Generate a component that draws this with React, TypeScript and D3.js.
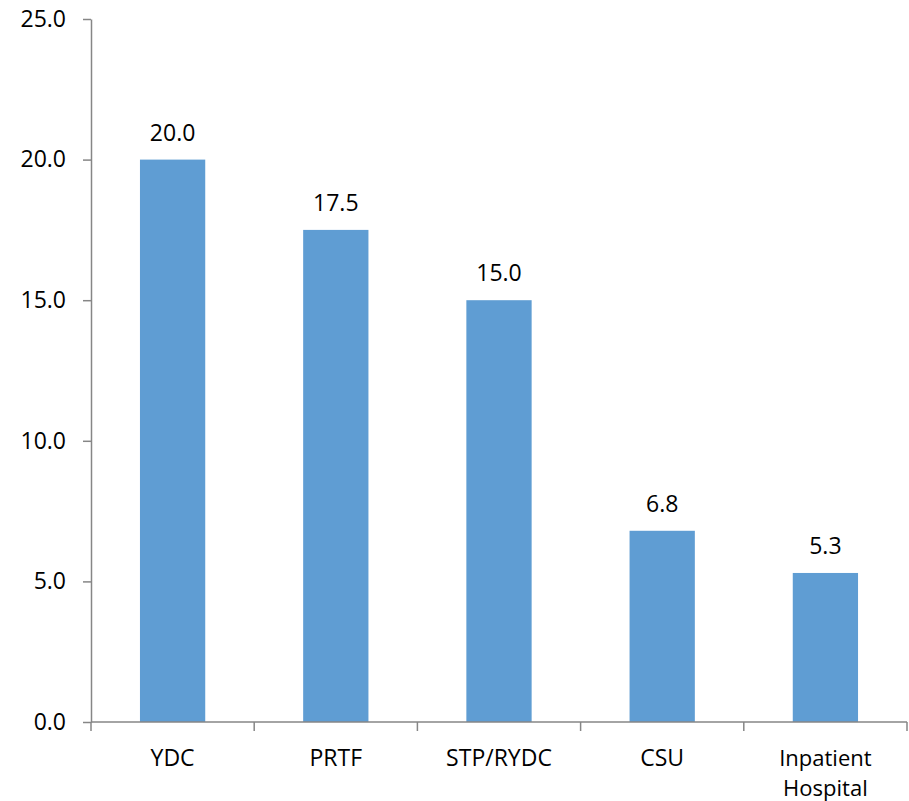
import React, { useEffect, useRef } from "react";
import * as d3 from "d3";

const categories = ["YDC", "PRTF", "STP/RYDC", "CSU", "Inpatient Hospital"];
const values = [20.0, 17.5, 15.0, 6.8, 5.3];
const yTicks = [0, 5, 10, 15, 20, 25];

const width = 909;
const height = 801;
const margin = { top: 19, right: 2, bottom: 79, left: 91 };
const font = "'Open Sans', sans-serif";
const fontSize = "23px";

function BarChart() {
  const ref = useRef<SVGSVGElement | null>(null);

  useEffect(() => {
    const svg = d3.select(ref.current);
    svg.selectAll("*").remove();

    const x = d3
      .scaleBand()
      .domain(categories)
      .range([margin.left, width - margin.right])
      .paddingInner(0.6)
      .paddingOuter(0.3);

    const y = d3
      .scaleLinear()
      .domain([0, 25])
      .range([height - margin.bottom, margin.top]);

    const data = categories.map((c, i) => ({ cat: c, val: values[i] }));

    // bars
    svg
      .append("g")
      .selectAll("rect")
      .data(data)
      .join("rect")
      .attr("x", (d) => x(d.cat)!)
      .attr("width", x.bandwidth())
      .attr("y", (d) => y(d.val))
      .attr("height", (d) => y(0) - y(d.val))
      .attr("fill", "#5f9dd3");

    // value labels
    svg
      .append("g")
      .selectAll("text")
      .data(data)
      .join("text")
      .attr("x", (d) => x(d.cat)! + x.bandwidth() / 2)
      .attr("y", (d) => y(d.val) - 19)
      .attr("text-anchor", "middle")
      .style("font-family", font)
      .style("font-size", fontSize)
      .attr("fill", "#000")
      .text((d) => d.val.toFixed(1));

    // y axis
    const yAxis = svg
      .append("g")
      .attr("transform", `translate(${margin.left},0)`)
      .call(
        d3
          .axisLeft(y)
          .tickValues(yTicks)
          .tickFormat((d) => (d as number).toFixed(1))
          .tickSize(8)
          .tickSizeOuter(0)
          .tickPadding(17)
      );
    yAxis.select(".domain").attr("stroke", "#868686").attr("stroke-width", 1.5);
    yAxis.selectAll(".tick line").attr("stroke", "#868686").attr("stroke-width", 1.5);
    yAxis
      .selectAll(".tick text")
      .style("font-family", font)
      .style("font-size", fontSize)
      .attr("fill", "#000");

    // x axis with ticks at band boundaries
    const step = x.step();
    const x0 = margin.left;
    const bounds = d3.range(categories.length + 1).map((i) => x0 + i * step);
    const xAxis = svg.append("g");
    xAxis
      .append("line")
      .attr("x1", x0)
      .attr("x2", bounds[bounds.length - 1])
      .attr("y1", y(0))
      .attr("y2", y(0))
      .attr("stroke", "#868686")
      .attr("stroke-width", 1.5);
    xAxis
      .selectAll(".xt")
      .data(bounds)
      .join("line")
      .attr("x1", (d) => d)
      .attr("x2", (d) => d)
      .attr("y1", y(0))
      .attr("y2", y(0) + 9)
      .attr("stroke", "#868686")
      .attr("stroke-width", 1.5);

    // category labels, the long one wrapped on two lines
    categories.forEach((c) => {
      const words = c === "Inpatient Hospital" ? ["Inpatient", "Hospital"] : [c];
      words.forEach((w, i) => {
        xAxis
          .append("text")
          .attr("x", x(c)! + x.bandwidth() / 2)
          .attr("y", y(0) + 44 + i * 30)
          .attr("text-anchor", "middle")
          .style("font-family", font)
          .style("font-size", words.length > 1 ? "22px" : fontSize)
          .attr("fill", "#000")
          .text(w);
      });
    });
  }, []);

  return (
    <svg
      ref={ref}
      width={width}
      height={height}
      style={{ position: "absolute", left: 0, top: 0, background: "#fff" }}
    />
  );
}

export default function App() {
  return <BarChart />;
}
